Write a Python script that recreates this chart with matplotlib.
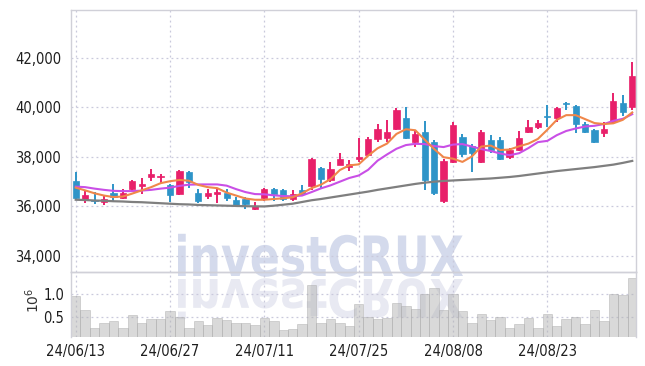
import matplotlib
matplotlib.use("Agg")
import matplotlib.pyplot as plt
from matplotlib.textpath import TextPath
from matplotlib.font_manager import FontProperties, fontManager
from matplotlib.patches import PathPatch
from matplotlib.transforms import Affine2D
from matplotlib.path import Path
import numpy as np

# --- data ---
dates = ["24/06/13", "24/06/14", "24/06/17", "24/06/18", "24/06/19", "24/06/20", "24/06/21",
         "24/06/24", "24/06/25", "24/06/26", "24/06/27", "24/06/28",
         "24/07/01", "24/07/02", "24/07/03", "24/07/04", "24/07/05", "24/07/08", "24/07/09",
         "24/07/10", "24/07/11", "24/07/12", "24/07/15", "24/07/16", "24/07/17", "24/07/18",
         "24/07/19", "24/07/22", "24/07/23", "24/07/24", "24/07/25", "24/07/26", "24/07/29",
         "24/07/30", "24/07/31",
         "24/08/01", "24/08/02", "24/08/05", "24/08/06", "24/08/07", "24/08/08", "24/08/09",
         "24/08/12", "24/08/13", "24/08/14", "24/08/16", "24/08/19", "24/08/20", "24/08/21",
         "24/08/22", "24/08/23", "24/08/26", "24/08/27", "24/08/28", "24/08/29", "24/08/30",
         "24/09/02", "24/09/03", "24/09/04", "24/09/05"]

opens = [37010, 36270, 36280, 36190, 36540, 36350, 36690, 36820, 37190, 37180,
         36850, 36500, 37380, 36540, 36430, 36500, 36560, 36280, 36310, 35890,
         36340, 36720, 36680, 36310, 36650, 36810, 37550, 37050, 37690, 37590,
         37930, 38070, 38740, 38770, 39150, 39580, 38610, 39010, 38610, 36200,
         37800, 38810, 38450, 37800, 38680, 38700, 38000, 38270, 39010, 39220,
         39650, 39560, 40190, 40050, 39350, 39080, 38970, 39420, 40200, 40030]
highs = [37390, 36680, 36580, 36470, 36890, 36720, 37050, 37160, 37500, 37330,
         36920, 37460, 37420, 36720, 36720, 36720, 36720, 36380, 36400, 36170,
         36760, 36760, 36720, 36680, 36850, 37960, 37590, 37800, 38140, 37890,
         38770, 38810, 39350, 39490, 39960, 40030, 39080, 39450, 38680, 37930,
         39420, 38920, 38540, 39080, 38880, 38810, 38380, 39050, 39490, 39490,
         40100, 40030, 40230, 40100, 39420, 39150, 39420, 40570, 40500, 41850]
lows = [36280, 36130, 36110, 36040, 36210, 36310, 36620, 36510, 37030, 36920,
        36170, 36470, 36760, 36130, 36310, 36130, 36240, 35970, 35910, 35870,
        36240, 36240, 36240, 36240, 36450, 36680, 36760, 36990, 37660, 37430,
        37800, 38040, 38610, 38610, 39080, 38740, 38400, 36650, 36450, 36150,
        37760, 38000, 37390, 37760, 38160, 37890, 37930, 38240, 38970, 39150,
        39220, 39420, 39890, 38950, 38950, 38580, 38810, 39350, 39650, 39890]
closes = [36340, 36470, 36200, 36310, 36400, 36540, 37010, 36890, 37300, 37240,
          36470, 37420, 36970, 36240, 36540, 36570, 36340, 36010, 36110, 36030,
          36720, 36490, 36310, 36510, 36490, 37930, 37100, 37530, 37930, 37730,
          38000, 38720, 39150, 39010, 39890, 38770, 38910, 37050, 36560, 37840,
          39280, 38110, 38180, 38990, 38300, 37930, 38300, 38750, 39220, 39380,
          39600, 39990, 40140, 39350, 39010, 38610, 39150, 40260, 39820, 41270]

# volume, millions of shares
volume = [0.96, 0.645, 0.25, 0.38, 0.41, 0.25, 0.54, 0.38, 0.45, 0.45,
          0.62, 0.50, 0.25, 0.41, 0.32, 0.47, 0.43, 0.38, 0.36, 0.32,
          0.47, 0.41, 0.21, 0.23, 0.34, 1.20, 0.38, 0.45, 0.36, 0.30,
          0.78, 0.49, 0.45, 0.47, 0.80, 0.73, 0.67, 1.01, 1.12, 0.645,
          1.01, 0.62, 0.38, 0.56, 0.43, 0.49, 0.25, 0.34, 0.47, 0.25,
          0.56, 0.30, 0.45, 0.51, 0.34, 0.645, 0.41, 0.99, 0.97, 1.34]

# moving averages as drawn in the reference
ma_short = [36760, 36650, 36530, 36440, 36380, 36400, 36520, 36650, 36780, 36940,
            37020, 37070, 37040, 36870, 36780, 36740, 36560, 36440, 36320, 36270,
            36270, 36300, 36330, 36370, 36530, 36740, 36880, 37100, 37470, 37660,
            37700, 38050, 38350, 38540, 38930, 39120, 39080, 38700, 38320, 37990,
            37930, 37800, 38020, 38420, 38460, 38280, 38300, 38430, 38540, 38730,
            39100, 39500, 39690, 39690, 39530, 39370, 39330, 39360, 39500, 39800]
ma_mid = [36800, 36780, 36720, 36670, 36630, 36620, 36620, 36640, 36670, 36720,
          36760, 36830, 36880, 36890, 36890, 36890, 36840, 36700, 36580, 36500,
          36490, 36450, 36420, 36410, 36440, 36580, 36730, 36850, 37000, 37150,
          37250, 37480, 37850, 38100, 38330, 38480, 38530, 38520, 38440, 38400,
          38500, 38520, 38420, 38320, 38240, 38140, 38070, 38150, 38360, 38600,
          38650, 38880, 39050, 39150, 39230, 39260, 39330, 39460, 39540, 39730]
ma_long = [36270, 36260, 36240, 36230, 36210, 36200, 36180, 36170, 36150, 36130,
           36110, 36090, 36080, 36060, 36050, 36040, 36030, 36020, 36010, 36005,
           36000, 36030, 36070, 36110, 36180, 36250, 36300, 36360, 36420, 36480,
           36540, 36600, 36670, 36730, 36790, 36850, 36910, 36960, 37000, 37030,
           37050, 37070, 37090, 37110, 37130, 37160, 37190, 37230, 37280, 37330,
           37380, 37430, 37470, 37510, 37550, 37590, 37640, 37690, 37760, 37840]

price_ticks = [34000, 36000, 38000, 40000, 42000]
vol_ticks = [0.5, 1.0]
date_tick_idx = [0, 10, 20, 30, 40, 50]

UP = "#e8206a"
DOWN = "#2e94c8"
GRID = "#c9c9dc"
FRAME = "#d0d0d8"

# narrow face for the tick labels if one is there
names = {f.name for f in fontManager.ttflist}
if 'Liberation Sans Narrow' in names:
    tick_font = FontProperties(family='Liberation Sans Narrow', size=11.5)
else:
    tick_font = FontProperties(family='DejaVu Sans', stretch='condensed', size=10.5)

W, H = 645, 366
fig = plt.figure(figsize=(W / 100, H / 100), dpi=100)

# --- watermark (with reflection) ---
wm_prop = FontProperties(family='DejaVu Sans', weight='bold')
p1 = TextPath((0, 0), "invest", size=1, prop=wm_prop)
w1 = p1.get_extents().x1 + 0.02
p2 = TextPath((w1, 0), "CRUX", size=1, prop=wm_prop)
wm = Path.make_compound_path(p1, p2)
ext = wm.get_extents()
sx = 285 / ext.width
sy = 43 / ext.height
base = H - 276
top_tr = Affine2D().translate(-ext.x0, 0).scale(sx, sy).translate(178, base) \
    + Affine2D().scale(1 / W, 1 / H) + fig.transFigure
bot_tr = Affine2D().translate(-ext.x0, 0).scale(sx, -sy * 0.95).translate(178, base - 3) \
    + Affine2D().scale(1 / W, 1 / H) + fig.transFigure
fig.patches.append(PathPatch(wm, transform=bot_tr, facecolor="#e8e9f2",
                             edgecolor="none", zorder=-2))
fig.patches.append(PathPatch(wm, transform=top_tr, facecolor="#d4daec",
                             edgecolor="none", zorder=-2))

# --- axes ---
ax = fig.add_axes([71 / W, 1 - 272 / H, 565 / W, 262 / H])
axv = fig.add_axes([71 / W, 1 - 337 / H, 565 / W, 65 / H], sharex=ax)
for a in (ax, axv):
    a.set_facecolor("none")
    for s in a.spines.values():
        s.set_color(FRAME)
        s.set_linewidth(1)
    a.grid(True, color=GRID, linestyle=(0, (1.5, 2.5)), linewidth=0.9)
    a.set_axisbelow(True)
    a.tick_params(length=0, colors="#1e1e1e")
axv.spines['bottom'].set_visible(False)

x = np.arange(len(opens))

# moving averages
ax.plot(x, ma_long, color="#7f7f7f", lw=1.6, zorder=3)
ax.plot(x, ma_mid, color="#c94fe6", lw=1.5, zorder=3)
ax.plot(x, ma_short, color="#f0874a", lw=1.5, zorder=3)

# candles
for i in range(len(opens)):
    c = UP if closes[i] >= opens[i] else DOWN
    ax.vlines(x[i], lows[i], highs[i], color=c, lw=1.4, zorder=2)
    lo = min(opens[i], closes[i])
    hgt = max(abs(closes[i] - opens[i]), 40)
    ax.bar(x[i], hgt, bottom=lo, width=0.66, color=c, edgecolor=c, lw=0.5, zorder=2)

ax.set_xlim(-0.5, 59.4)
ax.set_ylim(33350, 43940)
ax.set_yticks(price_ticks)
ax.set_yticklabels([f"{v:,}" for v in price_ticks], fontproperties=tick_font)
ax.tick_params(axis='y', pad=7)
ax.tick_params(axis='x', labelbottom=False)

# volume
axv.bar(x, volume, width=1.0, color="#b4b4b4", alpha=0.5, edgecolor="#a8a8a8",
        linewidth=0.6, zorder=2)
axv.set_ylim(0.065, 1.478)
axv.set_yticks(vol_ticks)
axv.set_yticklabels([f"{v:.1f}" for v in vol_ticks], fontproperties=tick_font)
axv.set_xticks(date_tick_idx)
axv.set_xticklabels([dates[i] for i in date_tick_idx], fontproperties=tick_font)
axv.tick_params(axis='y', pad=5)
axv.tick_params(axis='x', pad=5)
fig.text(33 / W, 1 - 300 / H, r"$10^6$", rotation=90, ha='center', va='center',
         fontsize=10, color="#333333", family='DejaVu Sans')

fig.savefig("out.png", dpi=100)
